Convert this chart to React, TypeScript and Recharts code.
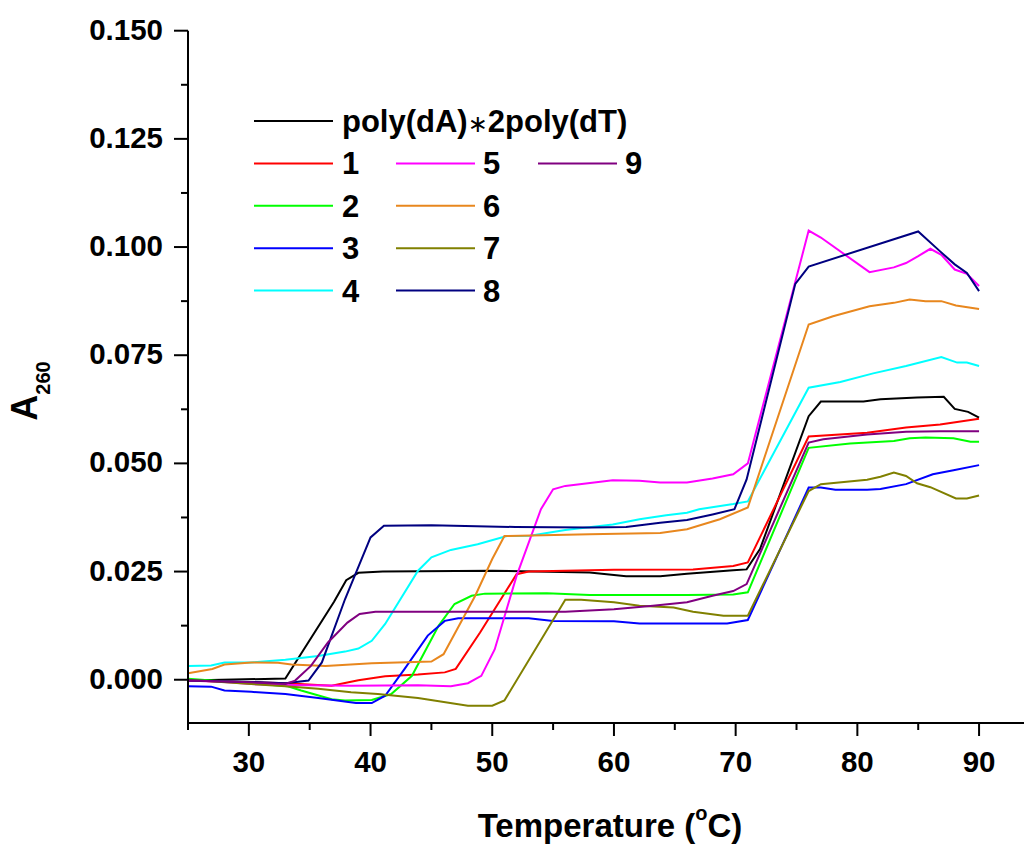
import React from 'react';
import { LineChart, Line, XAxis, YAxis } from 'recharts';

// Melting curves: absorbance at 260 nm versus temperature.
const xMajorTicks = [30, 40, 50, 60, 70, 80, 90];
const xMinorTicks = [25, 35, 45, 55, 65, 75, 85];
const yMajorTicks = [0, 0.025, 0.05, 0.075, 0.1, 0.125, 0.15];
const yMinorTicks = [0.0125, 0.0375, 0.0625, 0.0875, 0.1125, 0.1375];

const polyTriplex: [number, number][] = [
  [25, -0.0002], [33, 0.0003], [37, 0.018], [38, 0.023], [39, 0.0247], [41, 0.025], [50, 0.0252],
  [58, 0.0248], [61, 0.0239], [63.8, 0.0239], [66, 0.0245], [69.8, 0.0253], [70.9, 0.0255],
  [72, 0.0302], [76, 0.0609], [77, 0.0643], [80.5, 0.0643], [81.9, 0.0648], [84.9, 0.0652],
  [87.1, 0.0654], [88, 0.0626], [89.1, 0.0619], [90, 0.0606],
];
const series1: [number, number][] = [
  [25, -0.0002], [33, -0.0008], [36.8, -0.0014], [39, -0.0001], [41.2, 0.0008], [43.9, 0.0012],
  [46.1, 0.0017], [47, 0.0025], [49, 0.0109], [52, 0.0244], [53, 0.025], [60, 0.0254],
  [66.5, 0.0255], [69.8, 0.0263], [71, 0.0271], [76, 0.0562], [80.8, 0.0571], [84, 0.0583],
  [86.8, 0.059], [90, 0.0603],
];
const series2: [number, number][] = [
  [25, 0.0002], [30, -0.0008], [33.2, -0.0015], [34.3, -0.0025], [36.8, -0.0045], [37.9, -0.0048],
  [40.1, -0.0047], [41.7, -0.0033], [43.4, 0.0009], [45.6, 0.0125], [46.9, 0.0175], [48.3, 0.0194],
  [49.4, 0.0199], [54.5, 0.02], [58, 0.0196], [66, 0.0196], [69.8, 0.0197], [71, 0.0202],
  [76, 0.0536], [79.4, 0.0546], [83, 0.0552], [84.3, 0.0558], [85.6, 0.056], [87.9, 0.0558],
  [89.3, 0.055], [90, 0.055],
];
const series3: [number, number][] = [
  [25, -0.0015], [26.9, -0.0016], [28, -0.0025], [30.2, -0.0028], [33, -0.0033], [35.7, -0.0042],
  [38.8, -0.0054], [40.1, -0.0054], [41.2, -0.0037], [42.8, 0.0025], [44.7, 0.0102], [46.1, 0.0136],
  [47.2, 0.0142], [53, 0.0142], [55, 0.0136], [60, 0.0135], [62.1, 0.013], [69.3, 0.013],
  [71, 0.0138], [76, 0.0444], [77, 0.0444], [78.2, 0.0439], [80.8, 0.0439], [81.9, 0.0441],
  [84, 0.0452], [86.2, 0.0475], [87.9, 0.0484], [90, 0.0496],
];
const series4: [number, number][] = [
  [25, 0.0032], [26.9, 0.0033], [28, 0.004], [30.2, 0.004], [33, 0.0046], [35.7, 0.0055],
  [37.9, 0.0065], [39, 0.0072], [40.1, 0.009], [41.2, 0.0129], [43.9, 0.0252], [45, 0.0283],
  [46.6, 0.03], [48.8, 0.0313], [51.2, 0.0332], [53.1, 0.0333], [56, 0.0346], [59.9, 0.0359],
  [62.1, 0.0371], [64.3, 0.038], [66, 0.0386], [67, 0.0394], [69.8, 0.0406], [71, 0.0412],
  [76, 0.0675], [78.6, 0.0688], [81.3, 0.0708], [84, 0.0725], [86.9, 0.0746], [88.2, 0.0733],
  [89, 0.0733], [90, 0.0725],
];
const series5: [number, number][] = [
  [25, -0.0002], [28, -0.0005], [30.2, -0.001], [33, -0.0012], [38.4, -0.0014], [43.9, -0.0013],
  [46.6, -0.0015], [48, -0.0008], [49.1, 0.0009], [50.2, 0.007], [52, 0.024], [54, 0.0394],
  [55, 0.044], [56, 0.0448], [59.9, 0.0461], [62.1, 0.046], [63.8, 0.0456], [66, 0.0456],
  [68.1, 0.0465], [69.8, 0.0475], [71, 0.05], [76, 0.1038], [77, 0.1022], [81, 0.0942],
  [83, 0.0953], [84, 0.0963], [85, 0.0979], [86, 0.0996], [86.9, 0.0982], [88, 0.0948],
  [89, 0.0938], [90, 0.091],
];
const series6: [number, number][] = [
  [25, 0.0015], [27, 0.0025], [28, 0.0035], [30.2, 0.004], [32.4, 0.0039], [33.5, 0.0035],
  [36.3, 0.0032], [40.1, 0.0038], [45, 0.0042], [46, 0.0059], [48.6, 0.0194], [50, 0.0279],
  [51, 0.0332], [58, 0.0336], [63.8, 0.0339], [66, 0.0348], [68.7, 0.0371], [71, 0.0398],
  [76, 0.0821], [78, 0.084], [81, 0.0863], [83, 0.0871], [84.3, 0.0879], [85.6, 0.0875],
  [86.9, 0.0875], [88.1, 0.0865], [90, 0.0857],
];
const series7: [number, number][] = [
  [25, 0.0], [30.2, -0.001], [33, -0.0015], [35.7, -0.0021], [38.4, -0.0029], [40.6, -0.0033],
  [43.9, -0.0042], [48, -0.006], [50, -0.006], [51, -0.0048], [56, 0.0185], [57.3, 0.0185],
  [60, 0.0179], [62.1, 0.0171], [64.9, 0.0167], [66.5, 0.0157], [69, 0.0148], [71, 0.0148],
  [76, 0.0436], [77, 0.0452], [80.8, 0.0462], [81.9, 0.0469], [83, 0.0479], [84, 0.0471],
  [84.9, 0.0454], [86, 0.0445], [88.1, 0.0419], [89, 0.0419], [90, 0.0426],
];
const series8: [number, number][] = [
  [25, -0.0002], [30.2, -0.0005], [33, -0.0008], [34.9, -0.0002], [36, 0.004], [37.9, 0.0186],
  [40, 0.0329], [41.1, 0.0356], [45, 0.0357], [51.9, 0.0353], [58, 0.0352], [61, 0.0353],
  [63.8, 0.0363], [66, 0.0369], [68.1, 0.0382], [69.9, 0.0394], [70.9, 0.0463], [74.9, 0.0915],
  [76, 0.0955], [85, 0.1036], [86.8, 0.099], [88, 0.096], [89, 0.094], [90, 0.0898],
];
const series9: [number, number][] = [
  [25, -0.0002], [30.2, -0.0006], [33, -0.001], [33.8, -0.0002], [35.1, 0.0032], [36.5, 0.0086],
  [38.1, 0.0132], [39.1, 0.0152], [40.4, 0.0157], [56, 0.0157], [60, 0.0163], [63.2, 0.0171],
  [66, 0.0179], [68.1, 0.0194], [69.8, 0.0205], [70.9, 0.0221], [76, 0.0548], [77.2, 0.0556],
  [80.8, 0.0567], [84, 0.0573], [86.8, 0.0574], [90, 0.0574],
];

const seriesNames = ['poly(dA)\u22172poly(dT)', '1', '2', '3', '4', '5', '6', '7', '8', '9'];
const seriesColors = ['#000000', '#ff0000', '#00ff00', '#0000ff', '#00ffff', '#ff00ff', '#e8871e', '#808000', '#000080', '#800080'];
const seriesValues = [polyTriplex, series1, series2, series3, series4, series5, series6, series7, series8, series9];

const seriesList = seriesValues.map((pairs, i) => ({
  name: seriesNames[i],
  color: seriesColors[i],
  data: pairs.map(([t, a]) => ({ t, a })),
}));

const FONT = '"Liberation Sans", Arial, sans-serif';
const W = 1024;
const H = 836;

const isIn = (list: number[], v: number) => list.some((t) => Math.abs(t - v) < 1e-9);

const XTick = (props: any) => {
  const { x, y, payload } = props;
  const major = isIn(xMajorTicks, payload.value);
  return (
    <g>
      <line x1={x} x2={x} y1={y} y2={y + (major ? 13 : 7)} stroke="#000" strokeWidth={2} />
      {major && (
        <text x={x} y={y + 49} textAnchor="middle" fontFamily={FONT} fontWeight="bold" fontSize={29.5} fill="#000">
          {payload.value}
        </text>
      )}
    </g>
  );
};

const YTick = (props: any) => {
  const { x, y, payload } = props;
  const major = isIn(yMajorTicks, payload.value);
  return (
    <g>
      <line x1={x - (major ? 14 : 7)} x2={x} y1={y} y2={y} stroke="#000" strokeWidth={2} />
      {major && (
        <text x={x - 25} y={y + 9} textAnchor="end" fontFamily={FONT} fontWeight="bold" fontSize={29.5} fill="#000">
          {payload.value.toFixed(3)}
        </text>
      )}
    </g>
  );
};

const legendLayout = [
  { lineX: 246, textX: 334, row: 0 },
  { lineX: 246, textX: 334, row: 1 },
  { lineX: 246, textX: 334, row: 2 },
  { lineX: 246, textX: 334, row: 3 },
  { lineX: 246, textX: 334, row: 4 },
  { lineX: 388, textX: 475, row: 1 },
  { lineX: 388, textX: 475, row: 2 },
  { lineX: 388, textX: 475, row: 3 },
  { lineX: 388, textX: 475, row: 4 },
  { lineX: 530, textX: 617, row: 1 },
];

const legendLabel = (name: string) => {
  const parts = name.split('\u2217');
  if (parts.length === 1) return name;
  return (
    <>
      {parts[0]}
      <tspan fontFamily='"DejaVu Sans", sans-serif' fontWeight="normal" fontSize={24}>{'\u2217'}</tspan>
      {parts[1]}
    </>
  );
};

const LegendBox = () => (
  <svg width={W} height={H} style={{ position: 'absolute', left: 0, top: 0, pointerEvents: 'none' }}>
    {seriesList.map((s, i) => {
      const pos = legendLayout[i];
      const y = 113 + pos.row * 42.4;
      return (
        <g key={s.name}>
          <line x1={pos.lineX} x2={pos.lineX + 79} y1={y} y2={y} stroke={s.color} strokeWidth={2} />
          <text x={pos.textX} y={y + 11} fontFamily={FONT} fontWeight="bold" fontSize={31} fill="#000">
            {legendLabel(s.name)}
          </text>
        </g>
      );
    })}
  </svg>
);

const XTitle = (props: any) => {
  const { viewBox } = props;
  const cx = viewBox.x + viewBox.width / 2;
  return (
    <text x={cx} y={829} textAnchor="middle" fontFamily={FONT} fontWeight="bold" fontSize={33} fill="#000">
      Temperature (<tspan fontSize={20} dy={-17}>o</tspan><tspan dy={17}>C)</tspan>
    </text>
  );
};

const YTitle = () => (
  <g transform="translate(29,383) rotate(-90)">
    <text x={0} y={0} textAnchor="middle" fontFamily={FONT} fontWeight="bold" fontSize={36} fill="#000">
      A<tspan fontSize={20} dy={13}>260</tspan>
    </text>
  </g>
);

export default function App() {
  return (
    <div style={{ position: 'relative', width: W, height: H, background: '#fff' }}>
      <LineChart width={W} height={H} margin={{ top: 22.7, right: 0, left: 0, bottom: 61 }}>
        <XAxis
          dataKey="t"
          type="number"
          domain={[25, 94.35]}
          allowDataOverflow
          ticks={[...xMinorTicks, ...xMajorTicks].sort((a, b) => a - b)}
          interval={0}
          height={60}
          axisLine={{ stroke: '#000', strokeWidth: 2 }}
          tickLine={false}
          tickSize={0}
          tickMargin={0}
          tick={<XTick />}
          label={<XTitle />}
        />
        <YAxis
          type="number"
          domain={[-0.01, 0.15]}
          allowDataOverflow
          ticks={[...yMajorTicks, ...yMinorTicks].sort((a, b) => a - b)}
          interval={0}
          width={180}
          axisLine={{ stroke: '#000', strokeWidth: 2 }}
          tickLine={false}
          tickSize={0}
          tickMargin={0}
          tick={<YTick />}
          label={<YTitle />}
        />
        {seriesList.map((s) => (
          <Line
            key={s.name}
            data={s.data}
            dataKey="a"
            type="linear"
            stroke={s.color}
            strokeWidth={2}
            dot={false}
            activeDot={false}
            isAnimationActive={false}
          />
        ))}
      </LineChart>
      <LegendBox />
    </div>
  );
}
